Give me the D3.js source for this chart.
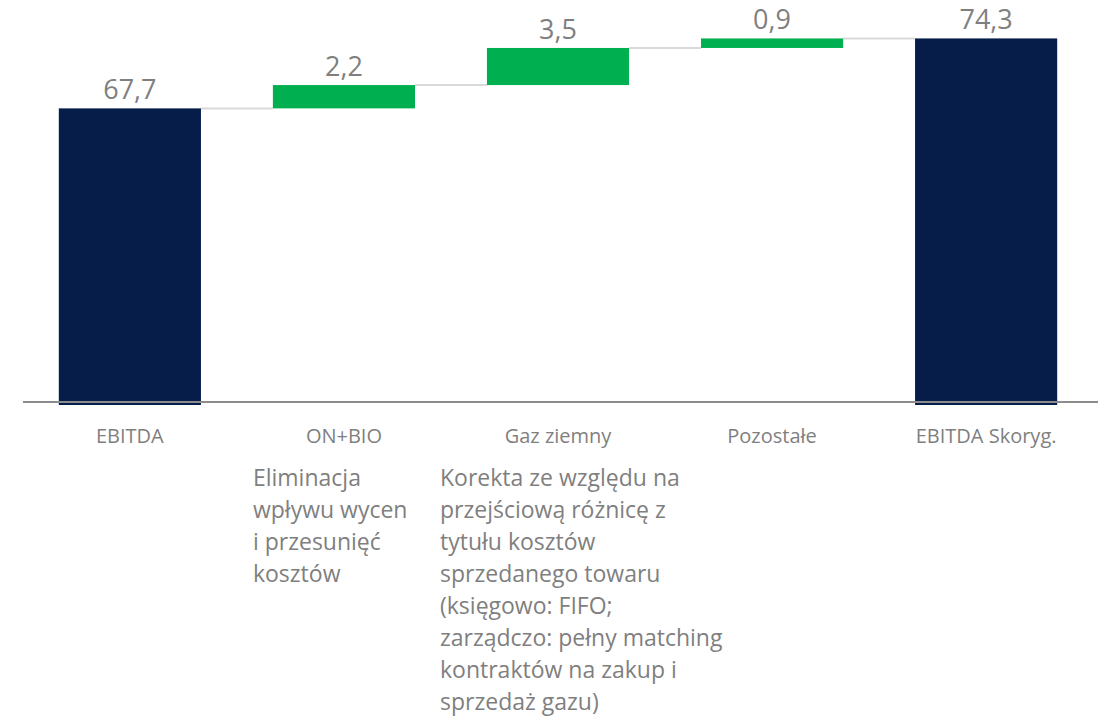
<!DOCTYPE html>
<html>
<head>
<meta charset="utf-8">
<script src="https://cdn.jsdelivr.net/npm/d3@7"></script>
<style>
  body { margin: 0; background: #fff; }
  text { font-family: "Open Sans", sans-serif; fill: #7f7f7f; }
</style>
</head>
<body>
<script>
// bridge data
var categories = ["EBITDA", "ON+BIO", "Gaz ziemny", "Pozostałe", "EBITDA Skoryg."];
var values = [67.7, 2.2, 3.5, 0.9, 74.3];
var kinds = ["total", "delta", "delta", "delta", "total"];

// notes under the category labels
var noteOnBio = ["Eliminacja", "wpływu wycen", "i przesunięć", "kosztów"];
var noteGaz = [
    "Korekta ze względu na",
    "przejściową różnicę z",
    "tytułu kosztów",
    "sprzedanego towaru",
    "(księgowo: FIFO;",
    "zarządczo: pełny matching",
    "kontraktów na zakup i",
    "sprzedaż gazu)"
];

window.onload = function(){

    var w = 1102, h = 717;

    var svg = d3.select("body")
        .append("svg")
        .attr("width", w)
        .attr("height", h);

    // polish number format: 67,7
    var pl = d3.formatLocale({decimal: ",", thousands: " ", grouping: [3], currency: ["", " zł"]});
    var fmt = pl.format(".1f");

    // running start/end for each bar
    var run = 0;
    var bars = values.map(function(v, i){
        var b;
        if (kinds[i] == "total") {
            b = {cat: categories[i], v: v, start: null, end: v, kind: kinds[i]};
            run = v;
        } else {
            b = {cat: categories[i], v: v, start: run, end: run + v, kind: kinds[i]};
            run = run + v;
        }
        return b;
    });

    var x = d3.scaleBand()
        .domain(categories)
        .range([16, 1100])
        .paddingInner(0.336)
        .paddingOuter(0.2);

    // axis is cut at 40, not 0
    var y = d3.scaleLinear()
        .domain([40, 75])
        .range([402, 31]);

    var base = y(40);

    // connectors between bars
    svg.selectAll(".connector")
        .data(bars.slice(0, -1))
        .enter()
        .append("line")
        .attr("class", "connector")
        .attr("x1", function(d){ return x(d.cat) + x.bandwidth(); })
        .attr("x2", function(d, i){ return x(categories[i + 1]); })
        .attr("y1", function(d){ return y(d.end); })
        .attr("y2", function(d){ return y(d.end); })
        .style("stroke", "#d9d9d9")
        .style("stroke-width", 2);

    svg.selectAll(".bar")
        .data(bars)
        .enter()
        .append("rect")
        .attr("class", "bar")
        .attr("x", function(d){ return x(d.cat); })
        .attr("width", x.bandwidth())
        .attr("y", function(d){ return y(d.end); })
        .attr("height", function(d){
            if (d.kind == "total") return base + 3 - y(d.end);
            return y(d.start) - y(d.end);
        })
        .style("fill", function(d){ return d.kind == "total" ? "#061d49" : "#00b050"; });

    // baseline
    svg.append("line")
        .attr("x1", 23)
        .attr("x2", 1098)
        .attr("y1", base)
        .attr("y2", base)
        .style("stroke", "#8c8c8c")
        .style("stroke-width", 2);

    // value labels
    svg.selectAll(".val")
        .data(bars)
        .enter()
        .append("text")
        .attr("class", "val")
        .attr("text-anchor", "middle")
        .attr("x", function(d){ return x(d.cat) + x.bandwidth() / 2; })
        .attr("y", function(d){ return y(d.end) - 9; })
        .style("font-size", "27px")
        .text(function(d){ return fmt(d.v); });

    // category labels
    svg.selectAll(".cat")
        .data(categories)
        .enter()
        .append("text")
        .attr("class", "cat")
        .attr("text-anchor", "middle")
        .attr("x", function(d){ return x(d) + x.bandwidth() / 2; })
        .attr("y", 443)
        .style("font-size", "20px")
        .text(function(d){ return d; });

    // notes
    var notes = [
        {cat: "ON+BIO", dx: -91, lines: noteOnBio},
        {cat: "Gaz ziemny", dx: -118, lines: noteGaz}
    ];

    notes.forEach(function(n){
        var t = svg.append("text")
            .attr("class", "note")
            .attr("y", 486)
            .style("font-size", "23px");
        t.selectAll("tspan")
            .data(n.lines)
            .enter()
            .append("tspan")
            .attr("x", x(n.cat) + x.bandwidth() / 2 + n.dx)
            .attr("dy", function(d, i){ return i == 0 ? 0 : 32; })
            .text(function(d){ return d; });
    });
};
</script>
</body>
</html>
